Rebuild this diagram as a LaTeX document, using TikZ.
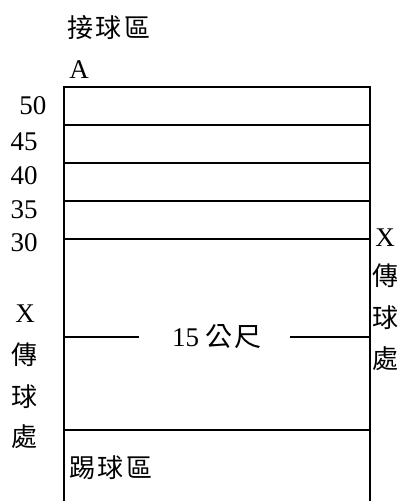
\documentclass[tikz,border=0pt]{standalone}
\usepackage{fontspec}
\setmainfont{Liberation Serif}
\newfontfamily\cjk[LetterSpace=10]{Noto Sans CJK TC}
\usetikzlibrary{positioning}
\tikzset{
  field/.style={
    line width=2.4pt,
  },
  yardline/.style={
    line width=1.8pt,
  },
  lbl/.style={
    font=\fontsize{27}{29}\selectfont,
    inner sep=0pt,
  },
  zh/.style={
    lbl,
    font=\fontsize{26}{28}\selectfont\cjk,
  },
}

\begin{document}
\begin{tikzpicture}[x=1pt,y=-1pt]
		\useasboundingbox (0,0) rectangle (406,501);

		% field outline and yard lines
		\coordinate (tl) at (64,87);
		\coordinate (tr) at (370,87);
		\coordinate (bl) at (64,501);
		\coordinate (br) at (370,501);
		\draw[field] (bl) -- (tl) -- (tr) -- (br);
		\foreach \y in {125,163,201,239,430}
			\draw[field] (64,\y) -- (370,\y);

		% labels
		\node[zh, anchor=west] (catch) at (67,28) {接球區};
		\node[lbl] (pa) at (79,70) {A};
		\node[zh, anchor=west] (kick) at (69,468) {踢球區};

		\node[lbl] (y50) at (33,106) {50};
		\node[lbl] (y45) at (24,142) {45};
		\node[lbl] (y40) at (24,176) {40};
		\node[lbl] (y35) at (24,210) {35};
		\node[lbl] (y30) at (24,243) {30};

		% passing points
		\node[lbl] (rx) at (385,238) {X};
		\foreach \c/\y [count=\i] in {傳/276,球/318,處/359}
			\node[zh] (rx\i) at (385,\y) {\c};
		\node[lbl] (lx) at (25,314) {X};
		\foreach \c/\y [count=\i] in {傳/355,球/397,處/437}
			\node[zh] (lx\i) at (25,\y) {\c};

		% width
		\node[lbl] (width) at (217,337) {15\hspace{6pt}{\cjk 公尺}};
		\coordinate (wl) at (64,337);
		\coordinate (wr) at (370,337);
		\draw[yardline] (wl) -- (139,337);
		\draw[yardline] (290,337) -- (wr);

	\end{tikzpicture}
\end{document}
